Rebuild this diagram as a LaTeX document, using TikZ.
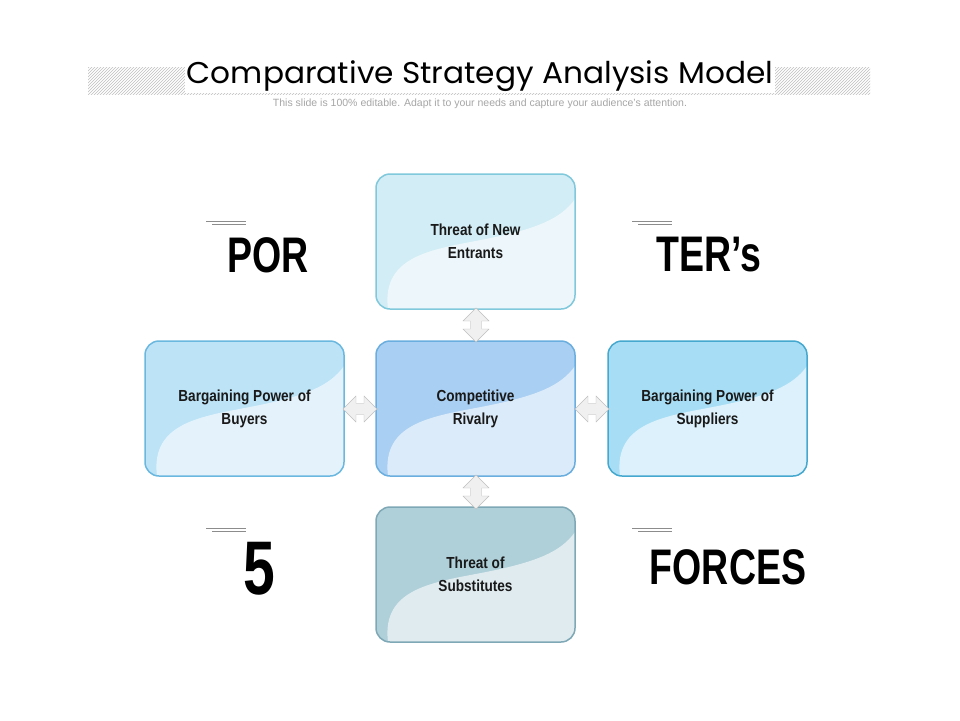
\documentclass[tikz,border=0pt]{standalone}
\usepackage{fontspec}
\setmainfont{Liberation Sans}
\newfontfamily\titlefont{Poppins}
\usetikzlibrary{patterns,shapes.arrows}
\definecolor{tA}{HTML}{D2EDF5}\definecolor{tAb}{HTML}{80C8DC}
\definecolor{cA}{HTML}{A9CFF2}\definecolor{cAb}{HTML}{6AAEE0}
\definecolor{rA}{HTML}{A8DEF5}\definecolor{rAb}{HTML}{45A8CF}
\definecolor{lA}{HTML}{BDE3F7}\definecolor{lAb}{HTML}{6AB8E0}
\definecolor{bA}{HTML}{AFCFD9}\definecolor{bAb}{HTML}{7FA8B6}
\tikzset{
 boxlbl/.style={font=\bfseries\fontsize{16}{23}\selectfont,align=center,text=black!90,xscale=0.85},
 big/.style={font=\bfseries\fontsize{50}{50}\selectfont,xscale=0.75},
 darr/.style={double arrow,draw=black!25,fill=black!6,minimum height=34pt,minimum width=26pt,double arrow head extend=4pt,inner sep=3pt}
}
\newcommand{\mybox}[5]{%
 \begin{scope}
 \clip[rounded corners=14pt] (#1,#2) rectangle ++(199,135);
 \fill[#3] (#1,#2) rectangle ++(199,135);
 \fill[white,opacity=0.6] (#1+12,#2+135) .. controls (#1+5,#2+80) and (#1+60,#2+75) .. (#1+110,#2+65) .. controls (#1+160,#2+55) and (#1+185,#2+45) .. (#1+199,#2+25) -- (#1+199,#2+135) -- cycle;
 \end{scope}
 \draw[#4,line width=1.5pt,rounded corners=14pt] (#1,#2) rectangle ++(199,135);
 \node[boxlbl] (#5) at (#1+99.5,#2+67.5) {};}
\begin{document}
\begin{tikzpicture}[x=1pt,y=-1pt]
\useasboundingbox (0,0) rectangle (960,720);
\fill[white] (0,0) rectangle (960,720);
\fill[pattern=north east lines,pattern color=black!25] (88,67) rectangle (870,94);
\node[fill=white,inner sep=2pt,font=\titlefont\fontsize{30}{34}\selectfont,xscale=1.04] (title) at (480,76) {Comparative Strategy Analysis Model};
\node[text=black!35,font=\fontsize{10.5}{12}\selectfont] (sub) at (480,104) {This slide is 100\% editable. Adapt it to your needs and capture your audience's attention.};
\mybox{376}{174}{tA}{tAb}{top}
\mybox{145}{341}{lA}{lAb}{left}
\mybox{376}{341}{cA}{cAb}{center}
\mybox{608}{341}{rA}{rAb}{right}
\mybox{376}{507}{bA}{bAb}{bottom}
\node[boxlbl] at (top) {Threat of New\\Entrants};
\node[boxlbl] at (left) {Bargaining Power of\\Buyers};
\node[boxlbl] at (center) {Competitive\\Rivalry};
\node[boxlbl] at (right) {Bargaining Power of\\Suppliers};
\node[boxlbl] at (bottom) {Threat of\\Substitutes};
\node[darr,rotate=90] (a1) at (476,325) {};
\node[darr,rotate=90] (a2) at (476,492) {};
\node[darr] (a3) at (360,409) {};
\node[darr] (a4) at (592,409) {};
\node[big] (por) at (268,255) {POR};
\node[big] (ters) at (709,255) {TER’s};
\node[big,font=\bfseries\fontsize{76}{76}\selectfont] (five) at (259,569) {5};
\node[big] (forces) at (728,567) {FORCES};
\foreach \x/\y in {206/221,632/221,206/528,632/528}{
 \draw[black!45,line width=0.6pt] (\x,\y) -- ++(40,0);
 \draw[black!45,line width=0.6pt] (\x+6,\y+3) -- ++(34,0);}
\end{tikzpicture}
\end{document}
